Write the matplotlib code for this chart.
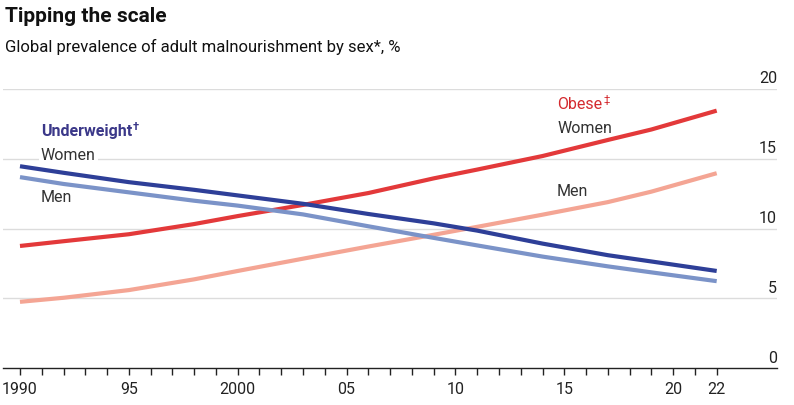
import numpy as np
import matplotlib
matplotlib.use('Agg')
import matplotlib.pyplot as plt

plt.rcParams['font.family'] = ['Roboto', 'DejaVu Sans']

# data, % of adults
years = [1990, 1992, 1995, 1998, 2000, 2003, 2006, 2009, 2011, 2014, 2017, 2019, 2022]
obese_women = [8.76, 9.1, 9.6, 10.33, 10.9, 11.7, 12.55, 13.6, 14.23, 15.2, 16.35, 17.1, 18.45]
obese_men = [4.76, 5.05, 5.6, 6.37, 6.97, 7.85, 8.72, 9.56, 10.13, 11.0, 11.9, 12.65, 13.97]
under_women = [14.47, 14.0, 13.33, 12.78, 12.38, 11.78, 11.05, 10.38, 9.86, 8.93, 8.1, 7.65, 6.97]
under_men = [13.69, 13.2, 12.6, 12.0, 11.65, 11.02, 10.17, 9.34, 8.8, 8.0, 7.3, 6.87, 6.24]

xtick_pos = [1990, 1995, 2000, 2005, 2010, 2015, 2020, 2022]
xtick_lab = ['1990', '95', '2000', '05', '10', '15', '20', '22']
yticks = [0, 5, 10, 15, 20]

W, H = 794, 405
fig = plt.figure(figsize=(W / 100, H / 100), dpi=100)
# axes in pixel coords: left 3, right 777, top 89, bottom 368
ax = fig.add_axes([3 / W, 1 - 368.3 / H, 774 / W, (368.3 - 89) / H])

ax.plot(years, obese_women, color='#e3393a', lw=3, solid_capstyle='butt', zorder=3)
ax.plot(years, obese_men, color='#f4a594', lw=3, solid_capstyle='butt', zorder=3)
ax.plot(years, under_women, color='#2e3f98', lw=3, solid_capstyle='butt', zorder=3)
ax.plot(years, under_men, color='#7b93c8', lw=3, solid_capstyle='butt', zorder=3)

ax.set_xlim(1989.22, 2024.77)
ax.set_ylim(0, 20)

# gridlines + labels above them on the right
for y in yticks[1:]:
    ax.axhline(y, color='#dcdcdc', lw=1, zorder=1)
for y in yticks:
    ax.text(1, y + 0.2, str(y), transform=ax.get_yaxis_transform(), ha='right', va='bottom',
            fontsize=11.5, color='#222222')

for s in ['top', 'right', 'left']:
    ax.spines[s].set_visible(False)
ax.spines['bottom'].set_color('#222222')
ax.spines['bottom'].set_linewidth(1)
ax.set_yticks([])
ax.set_xticks(range(1990, 2023), minor=True)
ax.set_xticks(xtick_pos)
ax.set_xticklabels(xtick_lab, fontsize=11.5, color='#222222')
ax.tick_params(axis='x', which='both', length=5, width=1, color='#222222', pad=5)

lab = dict(fontsize=11.5, color='#333333', va='center', ha='left')
t1 = ax.text(1990.96, 16.95, 'Underweight', fontsize=11.5, fontweight='bold',
             color='#3b3889', va='center', ha='left')
ax.text(1990.96, 15.24, 'Women', bbox=dict(facecolor='white', edgecolor='none', pad=1.5), **lab)
ax.text(1990.96, 12.24, 'Men', **lab)
t2 = ax.text(2014.67, 18.88, 'Obese', fontsize=11.5, color='#d42a2f', va='center', ha='left')
ax.text(2014.67, 17.16, 'Women', **lab)
ax.text(2014.67, 12.66, 'Men', **lab)

# superscript markers after the group labels
fig.canvas.draw()
r = fig.canvas.get_renderer()
for t, mark, col, bold in [(t1, '\u2020', '#3b3889', 'bold'), (t2, '\u2021', '#d42a2f', 'normal')]:
    bb = t.get_window_extent(r)
    fig.text((bb.x1 + 1) / W, (bb.y1 + 2) / H, mark, fontsize=8, color=col,
             fontweight=bold, va='top', ha='left')

fig.text(5 / W, 1 - 16 / H, 'Tipping the scale', fontsize=15, fontweight='bold',
         color='#111111', va='center', ha='left')
fig.text(5 / W, 1 - 47 / H, 'Global prevalence of adult malnourishment by sex*, %',
         fontsize=12, color='#111111', va='center', ha='left')

fig.savefig('out.png', dpi=100)
